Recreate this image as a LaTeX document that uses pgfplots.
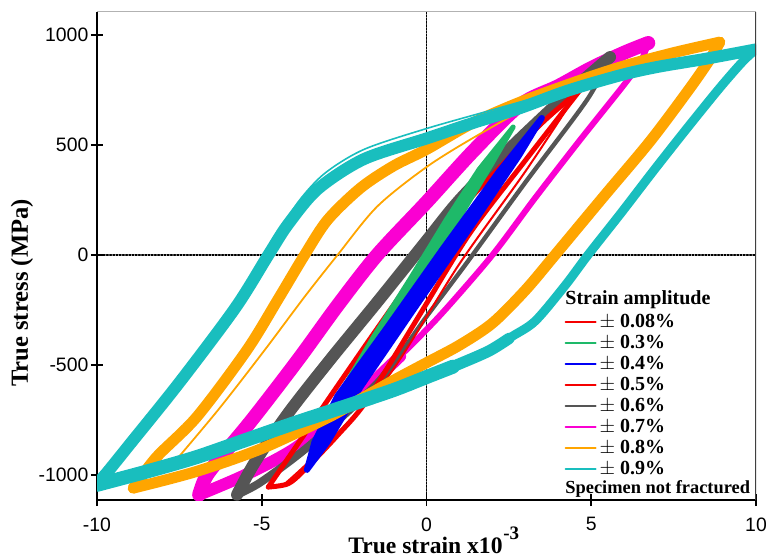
\documentclass[border=0pt]{standalone}
\usepackage{pgfplots}
\pgfplotsset{compat=1.18}
\usepackage{fontspec}
\setmainfont{Liberation Serif}
\newfontfamily\sansf{Liberation Sans}
\definecolor{cyc}{RGB}{25,190,190}
\definecolor{orc}{RGB}{255,165,0}
\definecolor{mgc}{RGB}{250,0,210}
\definecolor{grc}{RGB}{85,85,85}
\definecolor{rdc}{RGB}{245,0,0}
\definecolor{blc}{RGB}{0,0,245}
\definecolor{gnc}{RGB}{30,185,105}
\begin{document}
\begin{tikzpicture}
\useasboundingbox (-48.5pt,-29pt) rectangle (334.5pt,250pt);
\begin{axis}[
 at={(0,0)}, anchor=south west,
 scale only axis, width=329.5pt, height=244pt,
 xmin=-10, xmax=10, ymin=-1114, ymax=1105,
 axis x line*=bottom, axis y line*=left,
 axis line style={black, line width=0.9pt},
 xtick={-10,-5,0,5,10}, ytick={-1000,-500,0,500,1000},
 minor tick num=0,
 tick align=center, major tick length=6pt,
 tick style={black, line width=0.9pt},
 /pgf/number format/assume math mode=true,
 /pgf/number format/set thousands separator={},
 ticklabel style={font=\sansf\fontsize{9.7}{11}\selectfont},
 xticklabel style={inner sep=0pt, yshift=-5.6pt},
 yticklabel style={xshift=2.2pt},
 legend cell align=left,
 legend image code/.code={\draw[#1] (0pt,0pt) -- (15pt,0pt);},
 legend style={draw=none, fill=none, at={(axis cs:4.18,-258)}, anchor=north west,
   inner xsep=0pt, inner ysep=0pt, row sep=0.5pt,
   nodes={inner xsep=1.5pt, inner ysep=0.5pt, text height=7pt, text depth=2pt,
   font=\bfseries\fontsize{10}{12}\selectfont}},
 every axis plot/.append style={line cap=round, line join=round},
]
% legend entries
\addlegendimage{rdc, line width=1pt}\addlegendentry{$\pm$ 0.08\%}
\addlegendimage{gnc, line width=1pt}\addlegendentry{$\pm$ 0.3\%}
\addlegendimage{blc, line width=1pt}\addlegendentry{$\pm$ 0.4\%}
\addlegendimage{rdc, line width=1pt}\addlegendentry{$\pm$ 0.5\%}
\addlegendimage{grc, line width=1pt}\addlegendentry{$\pm$ 0.6\%}
\addlegendimage{mgc, line width=1pt}\addlegendentry{$\pm$ 0.7\%}
\addlegendimage{orc, line width=1pt}\addlegendentry{$\pm$ 0.8\%}
\addlegendimage{cyc, line width=1pt}\addlegendentry{$\pm$ 0.9\%}

% reference lines
\addplot[black, line width=0.8pt, dash pattern=on 0.8pt off 0.8pt, forget plot] coordinates {(0,-1114) (0,1105)};
\addplot[black, line width=0.8pt, dash pattern=on 0.8pt off 0.8pt, forget plot] coordinates {(-10,0) (10,0)};

% +-0.08% (hidden in bundle)
\addplot[rdc, line width=1pt, forget plot] coordinates {(-0.6,-200) (0.4,40)};

% +-0.7% magenta
\addplot[mgc, line width=7pt, smooth, tension=0.5, forget plot] coordinates {
(6.73,964) (6,920) (5,850) (4,768) (2.84,682) (1.4,470) (0,240) (-1.5,0) (-2.7,-230) (-3.9,-477) (-5.3,-750) (-6.3,-930) (-6.7,-1010) (-6.9,-1090)};
\addplot[mgc, line width=3pt, smooth, tension=0.5, forget plot] coordinates {
(-2.5,-700) (-1.5,-560) (-0.5,-415) (0.5,-260) (2,0) (3.3,260) (4.66,523) (6.0,775) (6.5,880) (6.73,964)};
\addplot[mgc, line width=6pt, smooth, tension=0.5, forget plot] coordinates {
(-6.9,-1090) (-5.5,-1000) (-4,-880) (-2.5,-700) (-1.5,-560) (-0.8,-460)};

% +-0.6% gray
\addplot[grc, line width=6pt, smooth, tension=0.5, forget plot] coordinates {
(5.57,900) (4.35,741) (2.5,480) (1,250) (0,65) (-1.5,-215) (-2.93,-477) (-4.2,-720) (-5.2,-940) (-5.75,-1090)};
\addplot[grc, line width=2.2pt, smooth, tension=0.5, forget plot] coordinates {
(-3.5,-860) (-1.5,-585) (0,-280) (1.25,-30) (3,330) (4.87,705) (5.57,900)};
\addplot[grc, line width=4pt, smooth, tension=0.5, forget plot] coordinates {
(-5.75,-1090) (-5,-1030) (-3.5,-860) (-1.5,-585) (-0.8,-440)};

% +-0.5% red
\addplot[rdc, line width=2.5pt, smooth, tension=0.5, forget plot] coordinates {
(4.66,750) (3.5,600) (2.3,410) (1.1,218) (0,-15) (-1.5,-335) (-2.93,-645) (-4,-880) (-4.8,-1055)};
\addplot[rdc, line width=2.5pt, smooth, tension=0.5, forget plot] coordinates {
(-4.8,-1055) (-4.2,-1040) (-3.7,-977) (-2.7,-820) (-1.8,-659) (-0.2,-270) (1.32,100) (3,430) (4.66,750)};
\addplot[rdc, line width=1pt, smooth, tension=0.5, forget plot] coordinates {
(-4.3,-1040) (-3.3,-900) (-1.2,-560) (1.0,-40) (3.0,380) (4.5,720)};

% +-0.3% green
\addplot[gnc, line width=2.5pt, fill=gnc, forget plot] coordinates {
(2.63,582) (1.6,390) (0.6,160) (-0.5,-110) (-1.6,-370) (-2.5,-600)
(-1.3,-370) (-0.1,-100) (1.0,170) (2.0,420) (2.63,582)};
\addplot[gnc, line width=0.9pt, forget plot] coordinates {(-0.8,-170) (0.2,30) (1.1,230)};

% +-0.4% blue
\addplot[blc, line width=3pt, fill=blc, forget plot] coordinates {
(3.5,623) (2.2,380) (0.5,30) (-1.2,-330) (-2.7,-640) (-3.4,-850) (-3.63,-977)
(-3.0,-850) (-2.0,-600) (-0.4,-250) (1.4,140) (2.8,450) (3.5,623)};

% +-0.8% orange
\addplot[orc, line width=5.5pt, smooth, tension=0.5, forget plot] coordinates {
(8.9,968) (7.5,920) (6,860) (4.67,795) (2.84,695) (1.4,600) (0,480) (-1,405) (-2,305) (-3,160) (-3.7,0) (-4.5,-200) (-5.45,-432) (-6.97,-736) (-8.2,-920) (-8.9,-1060)};
\addplot[orc, line width=5.5pt, smooth, tension=0.5, forget plot] coordinates {
(-8.9,-1060) (-7,-985) (-5,-880) (-3,-740) (-2,-655) (-1,-570) (0,-490) (1,-410) (2,-310) (3,-160) (3.9,0) (5.4,270) (6.8,520) (8,760) (8.6,890) (8.9,968)};
\addplot[orc, line width=0.9pt, smooth, tension=0.5, forget plot] coordinates {
(-7.7,-950) (-6.3,-700) (-4.9,-430) (-3.7,-190) (-2.7,0) (-1.5,220) (0,400) (1.5,540) (3.5,705) (5,790)};

% +-0.9% cyan
\addplot[cyc, line width=6pt, smooth, tension=0.5, forget plot] coordinates {
(10,935) (8.5,893) (7,855) (5.9,818) (4.3,748) (2.8,666) (1.4,600) (0,530) (-1.9,436) (-3.3,300) (-4.2,140) (-4.8,0) (-5.8,-240) (-7.5,-580) (-9,-860) (-9.7,-990) (-10,-1040)};
\addplot[cyc, line width=4.5pt, smooth, tension=0.5, forget plot] coordinates {
(1,-495) (1.9,-436) (2.6,-370) (3.3,-300) (4.2,-140) (4.9,0) (5.9,190) (6.9,385) (7.9,575) (8.9,760) (9.6,880) (10,935)};
\addplot[cyc, line width=5.7pt, smooth, tension=0.5, forget plot] coordinates {
(-1,-614) (0,-555) (1,-495) (1.9,-436) (2.5,-380)};
\addplot[cyc, line width=7pt, smooth, tension=0.5, forget plot] coordinates {
(-10,-1045) (-8.5,-985) (-7,-920) (-5.5,-842) (-4,-764) (-2.5,-690) (-1,-614) (0,-555) (0.8,-508)};
\addplot[cyc, line width=0.8pt, smooth, tension=0.5, forget plot] coordinates {
(-4.5,90) (-3.9,240) (-3.1,370) (-1.9,480) (0,575) (2,660) (4,745)};

% frame top/right
\draw[gray!60, line width=0.5pt] (rel axis cs:0,1) -- (rel axis cs:1,1);
\draw[black!75, line width=0.8pt] (rel axis cs:1,1) -- (rel axis cs:1,0);
\end{axis}
% labels
\node[font=\bfseries\fontsize{11.8}{13}\selectfont, anchor=base east, inner sep=0pt] at (203pt,-26.8pt)
 {True strain x10};
\node[font=\bfseries\fontsize{9.5}{10}\selectfont, anchor=base west, inner sep=0pt] at (203pt,-19.5pt) {-3};
\node[font=\bfseries\fontsize{12.3}{14}\selectfont, rotate=90, anchor=center] at (-37.5pt,103.5pt)
 {True stress (MPa)};
\node[font=\bfseries\fontsize{10}{12}\selectfont, anchor=base west, inner sep=0pt] at (234pt,98pt) {Strain amplitude};
\node[font=\bfseries\fontsize{9.2}{11}\selectfont, anchor=base west, inner sep=0pt] at (234pt,3.5pt) {Specimen not fractured};
\end{tikzpicture}
\end{document}
